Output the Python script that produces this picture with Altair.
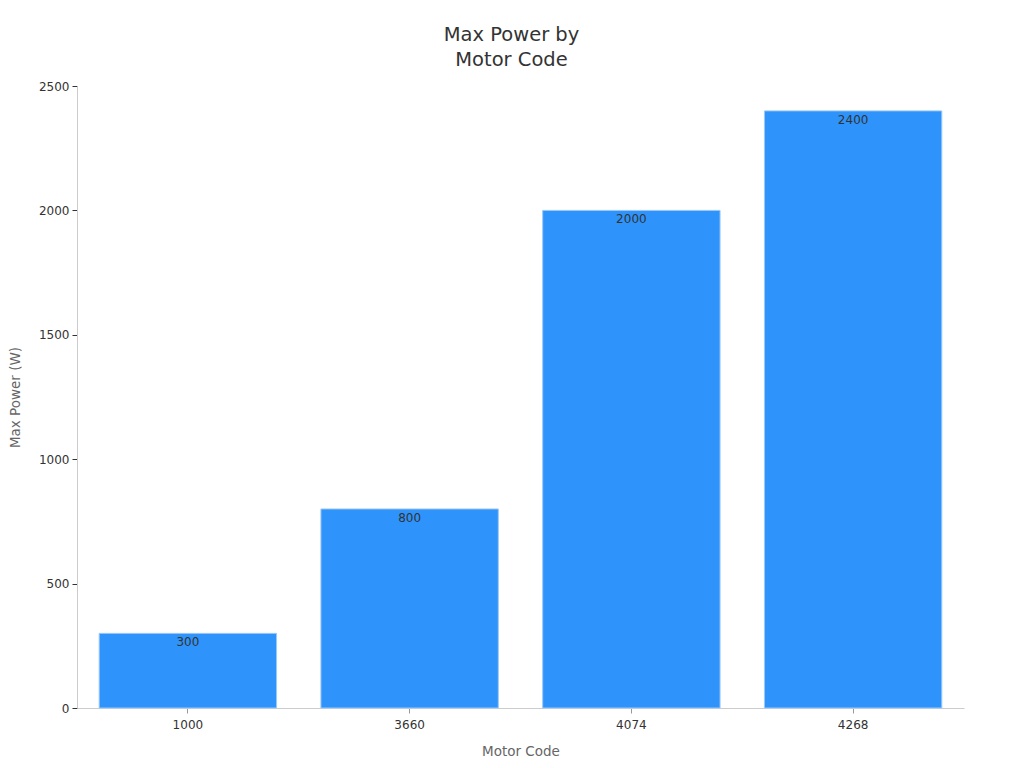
import altair as alt
import pandas as pd

codes = ["1000", "3660", "4074", "4268"]
power = [300, 800, 2000, 2400]

df = pd.DataFrame({"code": codes, "power": power})

base = alt.Chart(df).encode(
    x=alt.X("code:N", sort=codes, title="Motor Code",
            scale=alt.Scale(paddingInner=0.2, paddingOuter=0.1),
            axis=alt.Axis(labelAngle=0, labelFontSize=12, labelColor="#333333",
                          titleFontSize=13.5, titleColor="#666666", titleFontWeight="normal",
                          titlePadding=14, domainColor="#cccccc", tickColor="#999999",
                          labelPadding=6)),
    y=alt.Y("power:Q", title="Max Power (W)",
            scale=alt.Scale(domain=[0, 2500]),
            axis=alt.Axis(values=[0, 500, 1000, 1500, 2000, 2500], grid=False, format="d",
                          labelFontSize=12, labelColor="#333333",
                          titleFontSize=13.5, titleColor="#666666", titleFontWeight="normal",
                          titlePadding=16, domainColor="#cccccc", tickColor="#333333",
                          labelPadding=3)),
)

bars = base.mark_bar(color="#2E93FA", stroke="#9cc9f7", strokeWidth=1)
labels = base.mark_text(baseline="top", dy=4, fontSize=12, color="#333333").encode(
    text=alt.Text("power:Q", format="d")
)

chart = (bars + labels).properties(
    width=887, height=622,
    padding={"left": 0, "top": 16, "right": 5, "bottom": 5},
    title=alt.TitleParams(["Max Power by", "Motor Code"], fontSize=19.5,
                          fontWeight="normal", color="#333333", anchor="middle",
                          offset=10, lineHeight=25, dx=-9),
).configure(font="DejaVu Sans").configure_view(stroke=None)

chart.save("out.html", embed_options={"renderer": "svg", "actions": False})
